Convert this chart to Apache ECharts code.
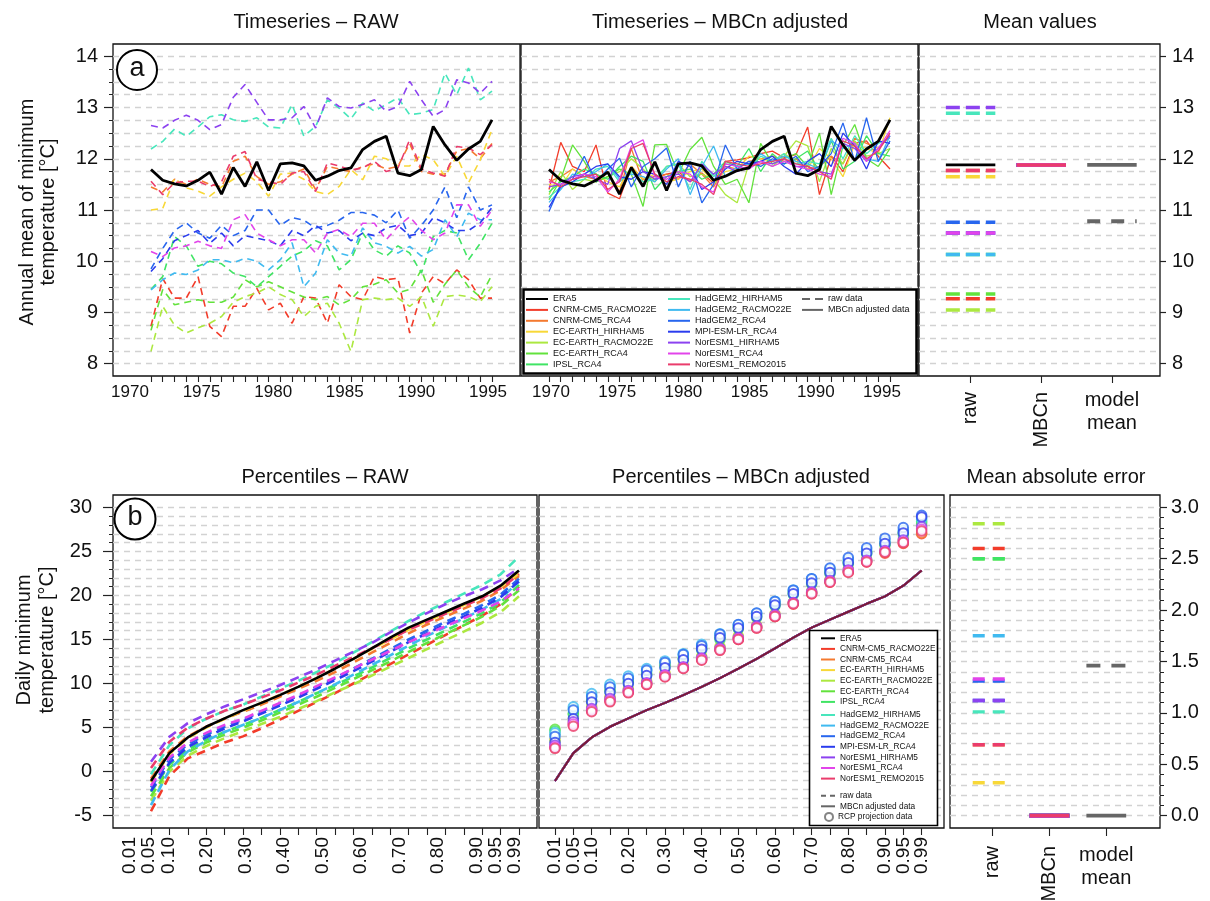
<!DOCTYPE html>
<html><head><meta charset="utf-8">
<script src="https://cdn.jsdelivr.net/npm/echarts@6.0.0/dist/echarts.min.js"></script>
<style>html,body{margin:0;padding:0;background:#fff}#c{width:1210px;height:901px}</style>
</head><body><div id="c"></div>
<script>
// ---------------- DATA ----------------
const years = [1970,1971,1972,1973,1974,1975,1976,1977,1978,1979,1980,1981,1982,1983,1984,1985,1986,1987,1988,1989,1990,1991,1992,1993,1994,1995,1996,1997,1998,1999];
const yearLabels = ['1970','1975','1980','1985','1990','1995'];
const pctLabels = ['0.01','0.05','0.10','0.15','0.20','0.25','0.30','0.35','0.40','0.45','0.50','0.55','0.60','0.65','0.70','0.75','0.80','0.85','0.90','0.95','0.99'];
const pctShownMain = [0,2,4,6,8,10,12,14,16,18,20];
const pctShownExtra = [1,19];
const summaryCats = ['raw','MBCn','model\nmean'];
const topTicks = [8,9,10,11,12,13,14];
const botTicks = [-5,0,5,10,15,20,25,30];
const maeTicks = [0,0.5,1,1.5,2,2.5,3];

const models = ['CNRM-CM5_RACMO22E','CNRM-CM5_RCA4','EC-EARTH_HIRHAM5','EC-EARTH_RACMO22E','EC-EARTH_RCA4','IPSL_RCA4','HadGEM2_HIRHAM5','HadGEM2_RACMO22E','HadGEM2_RCA4','MPI-ESM-LR_RCA4','NorESM1_HIRHAM5','NorESM1_RCA4','NorESM1_REMO2015'];
const colors = ['#F23C2A','#F47A30','#F8D838','#ACE840','#62E23C','#40E464','#48E6BC','#40BAF0','#2866EE','#2A3CEE','#8C42F0','#E244EA','#EA3C6C'];

const era5TS = [11.79,11.58,11.51,11.47,11.58,11.74,11.31,11.83,11.46,11.94,11.38,11.90,11.92,11.86,11.58,11.66,11.77,11.82,12.18,12.34,12.44,11.72,11.67,11.79,12.63,12.27,11.97,12.19,12.34,12.76];

const raw_CNRM_RACMO = [8.73,9.66,9.28,9.28,9.70,8.73,8.53,9.12,9.12,9.47,9.05,9.18,8.79,9.31,9.28,8.79,9.54,9.31,9.25,9.70,9.64,9.67,8.60,9.38,9.70,9.56,9.83,9.64,9.28,9.28];
const raw_CNRM_RCA4 = [11.45,11.35,11.60,11.50,11.60,11.50,11.45,11.95,12.05,11.65,11.50,11.55,11.70,11.80,11.40,11.85,11.80,11.75,11.85,11.90,11.80,11.85,12.30,11.75,11.70,11.70,12.15,12.20,12.00,12.30];
const raw_ECE_HIRHAM = [11.00,11.03,11.62,11.43,11.37,11.27,11.45,11.60,11.72,11.55,11.27,11.70,11.72,11.60,11.36,11.30,11.46,11.79,11.59,12.05,12.00,11.86,11.86,12.08,11.98,11.66,12.05,11.53,11.98,12.57];
const raw_ECE_RACMO = [8.24,9.12,8.75,8.60,8.70,8.79,8.92,9.20,9.31,9.38,9.50,9.35,9.25,8.92,9.12,9.18,8.79,8.24,9.25,9.28,9.25,9.28,9.12,9.31,8.73,9.31,9.34,9.31,9.21,9.50];
const raw_ECE_RCA4 = [8.65,9.45,9.15,9.20,9.25,9.20,9.20,9.30,9.64,9.50,9.60,9.50,9.40,9.30,9.25,9.31,9.15,9.25,9.50,9.55,9.64,9.38,9.45,9.83,9.20,9.55,9.83,9.50,9.30,9.74];
const raw_IPSL_RCA4 = [9.45,9.70,10.48,10.30,9.90,10.00,9.95,9.77,9.70,9.50,9.70,9.90,10.10,10.20,10.40,10.30,9.83,10.03,10.55,10.22,10.10,10.30,10.16,9.77,10.48,10.60,10.55,10.03,10.35,10.74];
const raw_HG_HIRHAM = [12.19,12.34,12.58,12.44,12.62,12.82,12.86,12.76,12.73,12.80,12.62,12.60,13.06,12.44,12.63,13.15,12.99,12.78,13.09,12.93,13.06,13.19,12.86,12.89,12.96,13.67,13.25,13.77,13.15,13.32];
const raw_HG_RACMO = [9.44,9.64,9.77,9.74,9.83,10.03,10.03,9.97,10.06,10.00,9.83,10.03,10.36,9.50,9.77,10.42,10.16,10.10,10.65,10.36,10.29,10.16,10.29,10.10,10.23,10.81,10.48,10.94,10.81,10.81];
const raw_HG_RCA4 = [9.85,10.25,10.60,10.75,10.55,10.45,10.70,10.50,10.60,11.00,11.00,10.70,10.85,10.80,10.65,10.70,10.80,10.95,10.95,10.90,10.75,11.00,10.45,10.70,11.00,11.45,10.85,11.45,11.00,11.10];
const raw_MPI_RCA4 = [9.80,10.05,10.40,10.50,10.60,10.35,10.55,10.30,10.50,10.45,10.40,10.30,10.60,10.50,10.70,10.55,10.60,10.40,10.55,10.50,10.65,10.70,10.50,10.55,10.85,10.75,10.60,10.60,10.75,11.05];
const raw_NOR_HIRHAM = [12.65,12.60,12.75,12.85,12.75,12.57,12.67,13.20,13.45,13.10,12.76,12.76,12.80,13.02,12.60,13.19,13.02,12.99,13.06,13.15,12.93,13.02,13.51,13.15,12.83,12.96,13.54,13.48,13.28,13.51];
const raw_NOR_RCA4 = [10.19,10.09,10.26,10.30,10.39,10.30,10.25,10.81,10.91,10.55,10.42,10.30,10.42,10.42,10.16,10.55,10.62,10.48,10.74,10.74,10.42,10.68,10.87,10.60,10.42,10.55,11.10,11.10,10.68,11.00];
const raw_NOR_REMO = [11.56,11.30,11.53,11.56,11.56,11.46,11.55,12.05,12.14,11.60,11.55,11.50,11.72,11.75,11.36,11.92,11.86,11.78,11.82,11.95,11.75,11.82,12.37,11.80,11.72,11.66,12.24,12.21,12.08,12.27];

const mbc_CNRM_RACMO = [11.40,12.32,11.85,11.75,12.27,11.33,11.22,11.85,11.60,11.65,11.70,11.75,11.55,11.72,11.52,11.95,11.98,12.02,12.10,12.15,12.02,12.08,12.62,11.30,12.05,11.75,12.30,12.35,12.05,11.80];
const mbc_CNRM_RCA4 = [11.55,11.65,11.80,11.65,11.60,11.75,11.35,12.20,11.55,11.60,11.70,11.60,11.90,11.70,11.45,11.85,11.80,11.95,12.00,12.05,11.95,12.00,11.80,11.85,12.05,11.90,12.40,12.30,12.20,12.45];
const mbc_ECE_HIRHAM = [11.50,11.45,11.80,11.65,11.70,11.55,11.45,11.85,11.60,11.70,11.55,11.60,11.75,11.80,11.55,11.75,11.80,12.05,12.00,11.95,12.10,11.95,11.80,12.20,12.00,11.65,12.30,12.20,12.10,12.80];
const mbc_ECE_RACMO = [11.30,11.75,11.40,11.60,11.55,11.65,11.75,12.00,11.80,11.55,11.85,11.90,11.65,11.70,11.60,11.30,11.14,11.90,11.95,11.85,12.05,12.35,12.25,11.55,12.20,11.90,12.35,12.05,12.10,12.20];
const mbc_ECE_RCA4 = [11.20,11.60,12.27,11.95,11.55,11.65,11.80,11.70,11.07,12.27,12.28,11.70,12.18,12.42,11.85,11.50,11.60,11.14,12.30,11.90,12.00,12.10,11.85,12.50,11.30,12.25,12.67,12.00,11.85,12.20];
const mbc_IPSL_RCA4 = [11.35,11.55,11.65,11.80,11.70,11.60,11.85,12.05,11.95,11.40,11.65,11.75,11.80,11.60,11.70,11.95,11.85,12.20,11.75,12.10,11.90,12.00,12.15,11.75,12.35,11.80,11.95,12.45,12.10,12.05];
const mbc_HG_HIRHAM = [11.25,11.45,11.55,11.60,11.80,11.85,11.55,11.75,11.55,11.60,11.85,11.90,11.40,11.95,11.65,11.90,11.85,11.80,12.05,11.95,12.10,11.90,11.95,11.90,12.40,12.00,12.45,12.10,12.30,12.40];
const mbc_HG_RACMO = [11.15,11.40,11.70,11.65,11.75,11.90,11.60,11.70,11.65,11.55,11.80,12.00,11.30,11.85,12.25,11.65,11.85,11.90,12.10,11.95,12.05,11.95,11.90,11.80,12.35,12.20,12.30,12.00,11.95,12.45];
const mbc_HG_RCA4 = [10.97,11.50,11.60,12.05,11.55,11.80,12.01,11.45,11.85,12.00,12.21,11.45,11.95,11.14,11.50,12.27,11.80,11.95,11.85,12.00,11.90,12.05,11.75,11.85,12.10,12.70,11.95,12.80,11.95,12.35];
const mbc_MPI_RCA4 = [11.05,11.45,11.55,11.70,11.85,11.90,11.65,11.60,11.75,11.70,11.50,11.95,11.85,11.40,11.55,11.80,11.95,11.90,11.95,12.05,11.85,11.70,11.95,12.10,11.85,12.50,12.25,11.80,12.35,12.30];
const mbc_NOR_HIRHAM = [11.45,11.50,11.65,11.70,11.60,11.50,12.20,12.35,11.75,11.60,11.65,11.70,11.55,11.90,11.70,11.85,11.75,11.85,11.95,11.90,12.00,11.85,11.85,11.75,11.70,12.30,12.20,11.95,12.20,12.45];
const mbc_NOR_RCA4 = [11.55,11.50,11.60,11.70,11.65,11.35,11.60,12.25,12.37,11.65,11.60,11.75,11.70,11.45,11.35,11.90,11.85,11.80,11.95,11.85,11.95,11.85,11.80,11.70,11.65,12.40,12.30,11.95,12.20,12.55];
const mbc_NOR_REMO = [11.60,11.45,11.60,11.65,11.70,11.40,11.55,12.20,12.30,11.70,11.55,11.65,11.60,11.50,11.30,11.95,11.90,11.85,11.90,11.95,12.00,11.90,11.85,11.75,11.60,12.35,12.25,12.00,12.15,12.50];

const era5Mean = 11.88;
const rawMeans = [9.27,11.77,11.65,9.05,9.36,10.13,12.89,10.13,10.76,10.55,13.00,10.55,11.77];
const mbcnMeans = [11.88,11.88,11.88,11.88,11.88,11.88,11.88,11.88,11.88,11.88,11.88,11.88,11.88];
const modelMeanTS = [10.78, 11.88]; // raw, MBCn

const era5Pct = [-1.07,2.1,3.88,5.09,6.04,6.98,7.8,8.68,9.62,10.62,11.68,12.8,14.0,15.2,16.35,17.25,18.15,19.05,19.9,21.1,22.83];
const mbcnPct = [-1.07,2.1,3.88,5.09,6.04,6.98,7.8,8.68,9.62,10.62,11.68,12.8,14.0,15.2,16.35,17.25,18.15,19.05,19.9,21.1,22.83];

const pr_CNRM_RACMO = [-4.5,-0.5,1.5,2.4,3.3,4.0,4.9,5.9,6.9,7.9,8.9,10.0,11.1,12.2,13.3,14.4,15.5,16.6,17.7,19.0,21.0];
const pr_CNRM_RCA4 = [-0.8,2.3,4.0,5.1,6.0,6.8,7.6,8.5,9.4,10.3,11.3,12.4,13.5,14.6,15.7,16.7,17.6,18.5,19.4,20.6,22.2];
const pr_ECE_HIRHAM = [-1.2,2.0,3.8,5.0,6.0,6.9,7.8,8.7,9.6,10.6,11.7,12.8,13.9,15.0,16.1,17.1,18.0,18.9,19.9,21.0,22.5];
const pr_ECE_RACMO = [-3.3,0.0,1.8,2.9,3.8,4.6,5.4,6.2,7.1,8.0,9.0,9.9,10.9,11.9,12.9,13.9,14.9,15.9,16.9,18.1,19.9];
const pr_ECE_RCA4 = [-2.8,0.4,2.2,3.3,4.2,5.0,5.8,6.7,7.6,8.5,9.5,10.5,11.5,12.5,13.6,14.6,15.6,16.6,17.6,18.8,20.6];
const pr_IPSL_RCA4 = [-2.3,0.8,2.5,3.6,4.5,5.3,6.1,7.0,7.9,8.9,9.8,10.8,11.8,12.9,14.0,15.0,16.0,17.0,18.0,19.2,21.2];
const pr_HG_HIRHAM = [-0.3,3.0,4.9,6.0,6.9,7.6,8.5,9.4,10.3,11.3,12.3,13.5,14.7,15.9,17.1,18.2,19.2,20.2,21.2,22.4,24.4];
const pr_HG_RACMO = [-3.8,0.2,2.3,3.5,4.5,5.3,6.1,7.0,7.9,8.9,9.9,11.0,12.1,13.2,14.3,15.4,16.4,17.4,18.4,19.6,21.6];
const pr_HG_RCA4 = [-1.8,1.4,3.1,4.2,5.1,5.9,6.8,7.7,8.6,9.6,10.6,11.7,12.8,13.9,15.0,16.0,17.0,17.9,18.9,20.1,21.9];
const pr_MPI_RCA4 = [-2.2,1.0,2.8,3.9,4.9,5.7,6.6,7.5,8.4,9.4,10.4,11.4,12.5,13.6,14.7,15.7,16.7,17.6,18.6,19.8,21.6];
const pr_NOR_HIRHAM = [1.13,3.95,5.5,6.5,7.4,8.2,9.0,9.8,10.7,11.6,12.6,13.6,14.6,15.8,16.9,18.0,19.0,19.9,20.7,21.7,23.1];
const pr_NOR_RCA4 = [-1.6,1.6,3.3,4.4,5.3,6.0,6.9,7.8,8.7,9.7,10.7,11.7,12.7,13.7,14.7,15.6,16.5,17.4,18.3,19.3,20.8];
const pr_NOR_REMO = [0.4,3.4,5.0,6.0,6.9,7.6,8.4,9.2,10.1,11.0,12.0,13.0,14.0,15.0,16.1,17.0,17.9,18.8,19.7,20.8,22.4];

const rcp_CNRM_RACMO = [2.7,5.3,6.9,8.0,9.0,9.9,10.8,11.75,12.7,13.8,15.0,16.3,17.6,19.0,20.2,21.5,22.7,23.8,24.8,25.9,27.0];
const rcp_CNRM_RCA4 = [2.9,5.5,7.1,8.2,9.1,10.0,10.9,11.8,12.8,13.9,15.1,16.4,17.7,19.1,20.3,21.6,22.7,23.9,24.9,26.0,27.1];
const rcp_ECE_HIRHAM = [3.66,6.0,7.5,8.5,9.4,10.3,11.2,12.1,13.1,14.2,15.4,16.6,17.9,19.2,20.5,21.8,23.0,24.1,25.2,26.4,27.9];
const rcp_ECE_RACMO = [3.5,5.8,7.3,8.4,9.3,10.2,11.1,12.0,13.0,14.1,15.3,16.5,17.8,19.2,20.4,21.7,22.9,24.0,25.0,26.2,27.6];
const rcp_ECE_RCA4 = [4.8,6.6,8.1,9.3,10.3,11.2,12.1,12.9,14.0,15.2,16.4,17.7,19.0,20.3,21.5,22.7,23.8,24.9,25.9,27.1,28.4];
const rcp_IPSL_RCA4 = [4.6,6.5,8.0,9.1,10.1,11.0,11.9,12.8,13.8,15.0,16.2,17.5,18.8,20.1,21.3,22.5,23.6,24.7,25.7,26.9,28.2];
const rcp_HG_HIRHAM = [4.2,7.1,8.6,9.7,10.6,11.5,12.3,13.2,14.2,15.4,16.5,17.8,19.1,20.4,21.6,22.8,23.9,25.0,26.0,27.2,28.6];
const rcp_HG_RACMO = [4.4,7.35,8.86,9.92,10.86,11.7,12.56,13.39,14.45,15.65,16.67,17.99,19.35,20.63,21.88,23.0,24.1,25.2,26.2,27.4,28.8];
const rcp_HG_RCA4 = [4.0,7.0,8.5,9.6,10.6,11.5,12.4,13.3,14.3,15.6,16.7,18.0,19.3,20.6,21.9,23.1,24.3,25.4,26.5,27.7,29.1];
const rcp_MPI_RCA4 = [3.3,6.0,7.9,9.0,10.0,10.9,11.8,12.7,13.9,15.2,16.3,17.6,18.9,20.2,21.4,22.6,23.7,24.8,25.9,27.1,28.9];
const rcp_NOR_HIRHAM = [3.0,5.65,7.17,8.3,9.2,10.1,11.0,11.9,12.9,14.0,15.2,16.5,17.8,19.2,20.4,21.7,22.9,24.0,25.1,26.3,27.8];
const rcp_NOR_RCA4 = [2.8,5.4,7.0,8.1,9.1,10.0,10.9,11.8,12.8,13.9,15.1,16.4,17.7,19.1,20.3,21.6,22.8,23.9,25.0,26.1,27.5];
const rcp_NOR_REMO = [2.64,5.16,6.79,7.92,8.94,9.88,10.75,11.7,12.64,13.77,15.0,16.29,17.61,19.05,20.18,21.5,22.6,23.8,24.9,26.0,27.3];

const maeRaw = [2.60,0.69,0.32,2.84,2.50,2.50,1.01,1.75,1.31,1.12,1.12,1.33,0.69];
const maeMbcn = [0,0,0,0,0,0,0,0,0,0,0,0,0];
const modelMeanMae = [1.46, 0.0]; // raw, MBCn

// ---------------- BUILD ----------------
const rawTS = [raw_CNRM_RACMO,raw_CNRM_RCA4,raw_ECE_HIRHAM,raw_ECE_RACMO,raw_ECE_RCA4,raw_IPSL_RCA4,raw_HG_HIRHAM,raw_HG_RACMO,raw_HG_RCA4,raw_MPI_RCA4,raw_NOR_HIRHAM,raw_NOR_RCA4,raw_NOR_REMO];
const mbcTS = [mbc_CNRM_RACMO,mbc_CNRM_RCA4,mbc_ECE_HIRHAM,mbc_ECE_RACMO,mbc_ECE_RCA4,mbc_IPSL_RCA4,mbc_HG_HIRHAM,mbc_HG_RACMO,mbc_HG_RCA4,mbc_MPI_RCA4,mbc_NOR_HIRHAM,mbc_NOR_RCA4,mbc_NOR_REMO];
const pctRaw = [pr_CNRM_RACMO,pr_CNRM_RCA4,pr_ECE_HIRHAM,pr_ECE_RACMO,pr_ECE_RCA4,pr_IPSL_RCA4,pr_HG_HIRHAM,pr_HG_RACMO,pr_HG_RCA4,pr_MPI_RCA4,pr_NOR_HIRHAM,pr_NOR_RCA4,pr_NOR_REMO];
const rcpPct = [rcp_CNRM_RACMO,rcp_CNRM_RCA4,rcp_ECE_HIRHAM,rcp_ECE_RACMO,rcp_ECE_RCA4,rcp_IPSL_RCA4,rcp_HG_HIRHAM,rcp_HG_RACMO,rcp_HG_RCA4,rcp_MPI_RCA4,rcp_NOR_HIRHAM,rcp_NOR_RCA4,rcp_NOR_REMO];

const FONT = '"Liberation Sans", Arial, Helvetica, sans-serif';
const INK = '#111';

const gridBoxes = [
  {left:113, top:44, width:407, height:332},
  {left:521, top:44, width:397, height:332},
  {left:919, top:44, width:241, height:332},
  {left:113, top:495, width:424, height:333},
  {left:539, top:495, width:405, height:333},
  {left:950, top:495, width:210, height:333}
];
const grids = gridBoxes.map(g => Object.assign({show:true, borderColor:'#111', borderWidth:1.3, backgroundColor:'#fff', containLabel:false, outerBoundsMode:'none'}, g));

function steps(a, b, s) { const out = []; const n = Math.round((b - a) / s); for (let i = 0; i <= n; i++) out.push(+(a + i * s).toFixed(4)); return out; }
const topGridVals = steps(8, 14, 0.25);
const botGridVals = steps(-5, 30, 1);
const maeGridVals = steps(0, 3, 0.1);

const xAxes = [], yAxes = [];
const xIdx = [], yIdx = [];
function addX(o) { xAxes.push(o); return xAxes.length - 1; }
function addY(o) { yAxes.push(o); return yAxes.length - 1; }
const lblStyle = (fs) => ({fontSize:fs, fontFamily:FONT, color:INK});
const noAxisLine = {show:false, onZero:false};

function yGrid(gi, min, max, vals, side, showTicks) {
  return addY({gridIndex:gi, type:'value', min, max, position:side,
    axisLine:noAxisLine, axisLabel:{show:false},
    axisTick:{show:showTicks, customValues:vals, length:4, lineStyle:{color:'#222', width:1}},
    splitLine:{show:true, lineStyle:{color:'#d2d2d2', width:1.4, type:[6,5]}}});
}
function yLabels(gi, min, max, vals, side, fmt, margin, tlen) {
  return addY({gridIndex:gi, type:'value', min, max, position:side,
    axisLine:noAxisLine, splitLine:{show:false},
    axisTick:{show:true, customValues:vals, length:tlen, lineStyle:{color:'#222', width:1.2}},
    axisLabel:Object.assign({show:true, customValues:vals, formatter:fmt, margin}, lblStyle(20))});
}
const TOP = [7.76, 14.24], BOT = [-6.4, 31.4], MAE = [-0.12, 3.12];

// y axes
yIdx[0] = yGrid(0, TOP[0], TOP[1], topGridVals, 'left', true);
yLabels(0, TOP[0], TOP[1], topTicks, 'left', v => String(Math.round(v)), 15, 9);
yIdx[1] = yGrid(1, TOP[0], TOP[1], topGridVals, 'left', false);
yIdx[2] = yGrid(2, TOP[0], TOP[1], topGridVals, 'right', false);
yLabels(2, TOP[0], TOP[1], topTicks, 'right', v => String(Math.round(v)), 12, 6);
yIdx[3] = yGrid(3, BOT[0], BOT[1], botGridVals, 'left', true);
yLabels(3, BOT[0], BOT[1], botTicks, 'left', v => String(Math.round(v)), 21, 10);
yIdx[4] = yGrid(4, BOT[0], BOT[1], botGridVals, 'left', false);
yIdx[5] = yGrid(5, MAE[0], MAE[1], maeGridVals, 'right', true);
yLabels(5, MAE[0], MAE[1], maeTicks, 'right', v => v.toFixed(1), 11, 7);

// x axes
function xTicks(gi, min, max, vals, tlen) {
  return addX({gridIndex:gi, type:'value', min, max, position:'bottom', axisLine:noAxisLine, splitLine:{show:false},
    axisLabel:{show:false}, axisTick:{show:true, customValues:vals, length:tlen, lineStyle:{color:'#222', width:1.1}}});
}
function xLabels(gi, min, max, vals, fmt, opts) {
  return addX({gridIndex:gi, type:'value', min, max, position:'bottom', axisLine:noAxisLine, splitLine:{show:false},
    axisTick:{show:false}, axisLabel:Object.assign({show:true, customValues:vals, formatter:fmt, hideOverlap:false, showMinLabel:true, showMaxLabel:true}, opts)});
}
const yearIdx = [0,1,2,3,4,5];
xIdx[0] = xTicks(0, 1966.77, 2001.38, years, 6);
xLabels(0, -0.237, 5.447, yearIdx, v => yearLabels[Math.round(v)], Object.assign({margin:8}, lblStyle(17)));
xIdx[1] = xTicks(1, 1967.62, 2001.38, years, 6);
xLabels(1, -0.453, 5.544, yearIdx, v => yearLabels[Math.round(v)], Object.assign({margin:8}, lblStyle(17)));

xIdx[2] = xTicks(2, 0.27, 3.68, [1,2,3], 7);
xLabels(2, 0.27, 3.68, [1,2], v => summaryCats[Math.round(v)-1], Object.assign({margin:16, rotate:90}, lblStyle(20)));
xLabels(2, 0.27, 3.68, [3], v => summaryCats[Math.round(v)-1], Object.assign({margin:13, rotate:0, lineHeight:23}, lblStyle(20)));

const pctIdx = pctLabels.map((_, i) => i);
const pctFmt = v => pctLabels[Math.round(v)];
const pctLblOpts = () => Object.assign({margin:9, rotate:90, lineHeight:13}, lblStyle(19));
xIdx[3] = xTicks(3, -2.065, 20.98, pctIdx, 7);
xLabels(3, -0.883, 21.14, pctShownMain, pctFmt, pctLblOpts());
xLabels(3, -0.883, 21.14, pctShownExtra, pctFmt, pctLblOpts());
xIdx[4] = xTicks(4, -0.873, 21.22, pctIdx, 7);
xLabels(4, -0.873, 21.22, pctShownMain, pctFmt, pctLblOpts());
xLabels(4, -0.873, 21.22, pctShownExtra, pctFmt, pctLblOpts());

xIdx[5] = xTicks(5, 0.25, 3.945, [1,2,3], 8);
xLabels(5, 0.25, 3.945, [1,2], v => summaryCats[Math.round(v)-1], Object.assign({margin:18, rotate:90}, lblStyle(20)));
xLabels(5, 0.25, 3.945, [3], v => summaryCats[Math.round(v)-1], Object.assign({margin:16, rotate:0, lineHeight:23}, lblStyle(20)));

// series
const series = [];
function line(gi, name, data, color, width, dash, extra) {
  series.push(Object.assign({type:'line', name, xAxisIndex:xIdx[gi], yAxisIndex:yIdx[gi], data,
    symbol:'none', showSymbol:false, silent:true, animation:false, emphasis:{disabled:true},
    lineStyle:{color, width, type:dash || 'solid', cap:'butt'}, itemStyle:{color}, z:2}, extra || {}));
}
function seg(gi, name, xc, v, half, color, width, dash) {
  line(gi, name, [[xc - half, v], [xc + half, v]], color, width, dash);
}

// (a) left: raw timeseries
models.forEach((m, i) => line(0, m, years.map((y, j) => [y, rawTS[i][j]]), colors[i], 1.6, [7,5]));
line(0, 'ERA5', years.map((y, j) => [y, era5TS[j]]), '#000', 2.8);
// (a) middle: MBCn timeseries
models.forEach((m, i) => line(1, m, years.map((y, j) => [y, mbcTS[i][j]]), colors[i], 1.3));
line(1, 'ERA5', years.map((y, j) => [y, era5TS[j]]), '#000', 2.8);
// (a) right: mean values
const HALF = 0.35;
models.forEach((m, i) => seg(2, m, 1, rawMeans[i], HALF, colors[i], 3.5, [14,6]));
seg(2, 'ERA5', 1, era5Mean, HALF, '#000', 2.8);
models.forEach((m, i) => seg(2, m, 2, mbcnMeans[i], HALF, colors[i], 3.5));
seg(2, 'model mean raw', 3, modelMeanTS[0], HALF, '#666', 3.8, [13,11]);
seg(2, 'model mean MBCn', 3, modelMeanTS[1], HALF, '#666', 3.8);

// (b) left: raw percentiles
models.forEach((m, i) => line(3, m, pctRaw[i].map((v, k) => [k, v]), colors[i], 2.6, [9,6]));
line(3, 'ERA5', era5Pct.map((v, k) => [k, v]), '#000', 2.6);
// (b) middle: RCP circles + MBCn percentiles
models.forEach((m, i) => series.push({type:'scatter', name:m, xAxisIndex:xIdx[4], yAxisIndex:yIdx[4],
  data: rcpPct[i].map((v, k) => [k, v]), symbol:'emptyCircle', symbolSize:9.5, silent:true, animation:false,
  emphasis:{disabled:true}, itemStyle:{color:colors[i], borderColor:colors[i], borderWidth:1.8}, z:2}));
models.forEach((m, i) => line(4, m, mbcnPct.map((v, k) => [k, v]), colors[i], 2));
line(4, 'ERA5', era5Pct.map((v, k) => [k, v]), '#000', 2, null, {lineStyle:{color:'#000', width:2, opacity:0.5}});
// (b) right: mean absolute error
models.forEach((m, i) => seg(5, m, 1, maeRaw[i], HALF, colors[i], 3.4, [12,8]));
models.forEach((m, i) => seg(5, m, 2, maeMbcn[i], HALF, colors[i], 3.6));
seg(5, 'model mean raw', 3, modelMeanMae[0], HALF, '#666', 3.8, [14,11]);
seg(5, 'model mean MBCn', 3, modelMeanMae[1], HALF, '#666', 3.8);

// legend helper series (no data)
series.push({type:'line', name:'raw data', xAxisIndex:xIdx[0], yAxisIndex:yIdx[0], data:[], symbol:'none',
  lineStyle:{color:'#666', width:2, type:[6,5]}, itemStyle:{color:'#666'}});
series.push({type:'line', name:'MBCn adjusted data', xAxisIndex:xIdx[0], yAxisIndex:yIdx[0], data:[], symbol:'none',
  lineStyle:{color:'#666', width:2}, itemStyle:{color:'#666'}});
series.push({type:'scatter', name:'RCP projection data', xAxisIndex:xIdx[0], yAxisIndex:yIdx[0], data:[], symbol:'emptyCircle',
  symbolSize:8, itemStyle:{color:'#666', borderColor:'#666', borderWidth:1.8}});

// legends
const DASH_ICON = 'path://M0,0H8V2H0ZM13,0H21V2H13Z';
function legend(names, left, top, fs, itemW, itemH, gap, icon) {
  return {show:true, orient:'vertical', left, top, padding:0, itemGap:gap, itemWidth:itemW, itemHeight:itemH,
    icon, symbolKeepAspect:false, selectedMode:false, z:30, data:names,
    textStyle:{fontSize:fs, fontFamily:FONT, color:INK, lineHeight:10}};
}
const legendNames = ['ERA5'].concat(models);
const legends = [
  legend(legendNames.slice(0, 7), 526, 294, 9, 22, 2, 0.9, 'rect'),
  legend(legendNames.slice(7), 668, 294, 9, 22, 2, 0.9, 'rect'),
  legend(['raw data'], 802, 294, 9, 21, 2, 0.9, DASH_ICON),
  legend(['MBCn adjusted data'], 802, 304.9, 9, 21, 2, 0.9, 'rect'),
  legend(legendNames.slice(0, 7), 821, 633.3, 8.3, 14, 2, 0.6, 'rect'),
  legend(legendNames.slice(7), 821, 710, 8.3, 14, 2, 0.6, 'rect'),
  legend(['raw data'], 821, 790.7, 8.3, 14, 2, 0.6, 'path://M0,0H5V2H0ZM9,0H14V2H9Z'),
  legend(['MBCn adjusted data'], 821, 801.3, 8.3, 14, 2, 0.6, 'rect'),
  legend(['RCP projection data'], 824, 811.9, 8.3, 8, 8, 0.6, 'emptyCircle')
];

// text annotations
function txt(x, y, text, fs, extra) {
  return Object.assign({type:'text', x, y, z:40, silent:true,
    style:{text, fontSize:fs, fontFamily:FONT, fill:INK, align:'center', verticalAlign:'middle'}}, extra || {});
}
const graphics = [
  txt(316, 22, 'Timeseries \u2013 RAW', 20),
  txt(720, 22, 'Timeseries \u2013 MBCn adjusted', 20),
  txt(1040, 22, 'Mean values', 20),
  txt(325, 477, 'Percentiles \u2013 RAW', 20),
  txt(741, 477, 'Percentiles \u2013 MBCn adjusted', 20),
  txt(1056, 477, 'Mean absolute error', 20),
  {type:'text', x:38, y:212, rotation:Math.PI/2, z:40, silent:true,
    style:{text:'Annual mean of minimum\ntemperature [\u00B0C]', fontSize:20, lineHeight:21, fontFamily:FONT, fill:INK, align:'center', verticalAlign:'middle'}},
  {type:'text', x:36, y:640, rotation:Math.PI/2, z:40, silent:true,
    style:{text:'Daily minimum\ntemperature [\u00B0C]', fontSize:20, lineHeight:23, fontFamily:FONT, fill:INK, align:'center', verticalAlign:'middle'}},
  {type:'circle', shape:{cx:137, cy:70, r:20}, z:35, silent:true, style:{fill:'#fff', stroke:'#000', lineWidth:2}},
  txt(137, 69, 'a', 27),
  {type:'circle', shape:{cx:135, cy:519, r:20.5}, z:35, silent:true, style:{fill:'#fff', stroke:'#000', lineWidth:2}},
  txt(135, 518, 'b', 27),
  {type:'rect', shape:{x:523.5, y:289.5, width:393, height:84}, z:25, silent:true, style:{fill:'#fff', stroke:'#000', lineWidth:2.5}},
  {type:'rect', shape:{x:809.5, y:630.5, width:128, height:195}, z:25, silent:true, style:{fill:'#fff', stroke:'#000', lineWidth:1.6}}
];

const chart = echarts.init(document.getElementById('c'), null, {renderer:'canvas'});
chart.setOption({
  animation:false, backgroundColor:'#fff',
  grid:grids, xAxis:xAxes, yAxis:yAxes, series, legend:legends,
  graphic:{elements:graphics}
});
</script>
</body></html>
